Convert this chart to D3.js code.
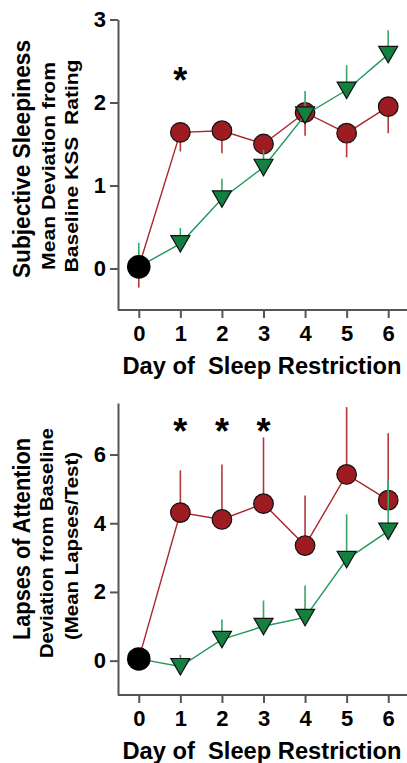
<!DOCTYPE html>
<html>
<head>
<meta charset="utf-8">
<script src="https://cdn.jsdelivr.net/npm/d3@7"></script>
<style>
    body { margin: 0; background: #fff; }
    text { font-family: "Liberation Sans", Arial, sans-serif; font-weight: bold; fill: #000; white-space: pre; }
</style>
</head>
<body>
<div id="chart"></div>
<script>
var days = [0, 1, 2, 3, 4, 5, 6];

// Subjective sleepiness (KSS)
var kssRed = [0.02, 1.64, 1.66, 1.50, 1.88, 1.63, 1.95];
var kssRedErr = [-0.23, 1.41, 1.39, 1.40, 1.60, 1.34, 1.63];
var kssGreen = [0.02, 0.30, 0.84, 1.22, 1.85, 2.15, 2.58];
var kssGreenErr = [0.31, 0.49, 1.08, 1.43, 2.14, 2.45, 2.87];
var kssStars = [1];
var kssTicks = [0, 1, 2, 3];

// Lapses of attention
var lapRed = [0.05, 4.31, 4.11, 4.57, 3.35, 5.42, 4.67];
var lapRedErr = [0.05, 5.54, 5.71, 6.50, 4.81, 7.38, 6.62];
var lapGreen = [0.05, -0.17, 0.62, 1.00, 1.26, 2.95, 3.77];
var lapGreenErr = [0.05, 0.17, 1.20, 1.75, 2.19, 4.26, 5.25];
var lapStars = [1, 2, 3];
var lapTicks = [0, 2, 4, 6];

var redFill = '#9c1c22', redLine = '#a8262c', redBar = '#b5383d';
var greenFill = '#13803f', greenLine = '#22985a', greenBar = '#3aa566';

var svg = d3.select('#chart')
    .append('svg')
    .attr('width', 407)
    .attr('height', 763);

function drawPanel(p) {
    var x = d3.scaleLinear().domain([-0.5, 6.5]).range([118, 409]);
    var y = d3.scaleLinear().domain(p.yDomain).range([p.bottom, p.top]);

    var g = svg.append('g');

    // axes
    var yAxis = g.append('g')
        .attr('transform', 'translate(118,0)')
        .call(d3.axisLeft(y).tickValues(p.ticks).tickFormat(d3.format('d'))
            .tickSize(8).tickPadding(4).tickSizeOuter(0));
    var xAxis = g.append('g')
        .attr('transform', `translate(0,${p.bottom})`)
        .call(d3.axisBottom(x).tickValues(days).tickFormat(d3.format('d'))
            .tickSize(8).tickPadding(7).tickSizeOuter(0));
    [xAxis, yAxis].forEach(a => {
        a.selectAll('path, line').attr('stroke', '#555').attr('stroke-width', 2);
        a.selectAll('text').attr('font-size', 22).attr('fill', '#000')
            .style('font-family', '"Liberation Sans", Arial, sans-serif').style('font-weight', 'bold');
    });
    xAxis.select('.domain').attr('d', `M118,0H409`);

    var series = [
        { v: p.red, e: p.redErr, line: redLine, bar: redBar, fill: redFill, shape: 'circle' },
        { v: p.green, e: p.greenErr, line: greenLine, bar: greenBar, fill: greenFill, shape: 'tri' }
    ];

    series.forEach(s => {
        g.append('g').selectAll('line').data(days).enter().append('line')
            .attr('x1', d => x(d)).attr('x2', d => x(d))
            .attr('y1', d => y(s.v[d])).attr('y2', d => y(s.e[d]))
            .attr('stroke', s.bar).attr('stroke-width', 1.6);

        g.append('path')
            .datum(days)
            .attr('fill', 'none')
            .attr('stroke', s.line)
            .attr('stroke-width', 1.4)
            .attr('d', d3.line().x(d => x(d)).y(d => y(s.v[d])));

        var pts = days.slice(1);
        if (s.shape === 'circle') {
            g.append('g').selectAll('circle').data(pts).enter().append('circle')
                .attr('cx', d => x(d)).attr('cy', d => y(s.v[d]))
                .attr('r', 9.8)
                .attr('fill', s.fill).attr('stroke', '#111').attr('stroke-width', 1.2);
        } else {
            g.append('g').selectAll('path').data(pts).enter().append('path')
                .attr('d', 'M-9.5,-8L9.5,-8L0,8.5Z')
                .attr('transform', d => `translate(${x(d)},${y(s.v[d])})`)
                .attr('fill', s.fill).attr('stroke', '#111').attr('stroke-width', 1.2);
        }
    });

    // baseline point
    g.append('circle')
        .attr('cx', x(0)).attr('cy', y(p.red[0]))
        .attr('r', 11.8)
        .attr('fill', '#000');

    // significance stars
    g.append('g').selectAll('text').data(p.stars).enter().append('text')
        .attr('x', d => x(d)).attr('y', p.starY)
        .attr('text-anchor', 'middle')
        .attr('font-size', 36)
        .text('*');

    // x title
    g.append('text')
        .attr('x', 262).attr('y', p.bottom + 64)
        .attr('text-anchor', 'middle')
        .attr('font-size', 23)
        .attr('textLength', 279)
        .attr('lengthAdjust', 'spacingAndGlyphs')
        .text('Day of  Sleep Restriction');

    // y titles
    p.titles.forEach(t => {
        g.append('text')
            .attr('transform', `translate(${t.x},${t.c}) rotate(-90)`)
            .attr('text-anchor', 'middle')
            .attr('font-size', t.size)
            .attr('textLength', t.len)
            .attr('lengthAdjust', 'spacingAndGlyphs')
            .text(t.text);
    });
}

drawPanel({
    yDomain: [-0.5, 3], top: 19.5, bottom: 310, ticks: kssTicks,
    red: kssRed, redErr: kssRedErr, green: kssGreen, greenErr: kssGreenErr,
    stars: kssStars, starY: 93,
    titles: [
        { text: 'Subjective Sleepiness', x: 30, c: 159, size: 23, len: 238 },
        { text: 'Mean Deviation from', x: 55, c: 166, size: 19, len: 208 },
        { text: 'Baseline KSS  Rating', x: 78, c: 166, size: 19, len: 213 }
    ]
});

drawPanel({
    yDomain: [-1, 7.5], top: 403, bottom: 695, ticks: lapTicks,
    red: lapRed, redErr: lapRedErr, green: lapGreen, greenErr: lapGreenErr,
    stars: lapStars, starY: 444,
    titles: [
        { text: 'Lapses of Attention', x: 30, c: 539, size: 23, len: 202 },
        { text: 'Deviation from Baseline', x: 53, c: 543, size: 19, len: 230 },
        { text: '(Mean Lapses/Test)', x: 78, c: 546, size: 19, len: 188 }
    ]
});
</script>
</body>
</html>
